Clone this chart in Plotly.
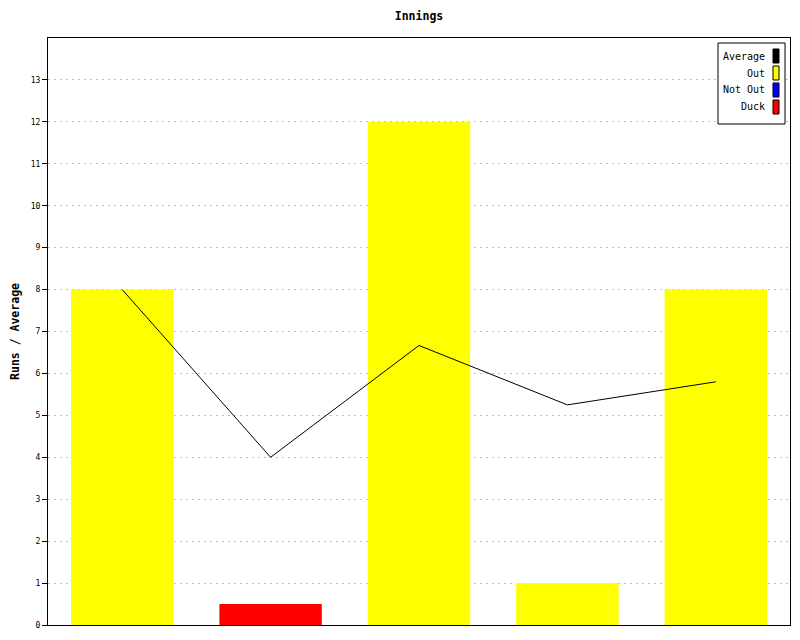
import plotly.graph_objects as go

# ---- data ----
innings = [1, 2, 3, 4, 5]
runs_bar = [8, 0.5, 12, 1, 8]           # duck drawn as a small stub
status = ["Out", "Duck", "Out", "Out", "Out"]
average = [8, 4, 6.6667, 5.25, 5.8]
y_ticks = list(range(0, 14))

legend_items = ["Average", "Out", "Not Out", "Duck"]
legend_colors = {"Average": "#000000", "Out": "#ffff00", "Not Out": "#0000ff", "Duck": "#ff0000"}

FONT = "DejaVu Sans Mono"

fig = go.Figure()
fig.add_trace(go.Bar(
    x=innings, y=runs_bar,
    marker=dict(color=[legend_colors[s] for s in status], line=dict(width=0)),
    width=0.69, showlegend=False, hoverinfo="skip",
))
fig.add_trace(go.Scatter(
    x=innings, y=average, mode="lines",
    line=dict(color="black", width=1), showlegend=False, hoverinfo="skip",
))

# page offset from default body margin
OFF = 8
W, H = 800 - OFF, 640 - OFF
# plot area in page pixels
L, R, T, B = 48, 790, 38, 625
def px(xp):
    return (xp - L) / (R - L)
def py(yp):
    return (B - yp) / (B - T)

shapes = []
annotations = []
# legend box
shapes.append(dict(type="rect", xref="paper", yref="paper",
                   x0=px(718), x1=px(785), y0=py(124), y1=py(43),
                   line=dict(color="black", width=1), fillcolor="white", layer="above"))
for i, name in enumerate(legend_items):
    cy = 56 + 17 * i
    shapes.append(dict(type="rect", xref="paper", yref="paper",
                       x0=px(773), x1=px(779), y0=py(cy + 7), y1=py(cy - 7),
                       line=dict(color="black", width=1),
                       fillcolor=legend_colors[name], layer="above"))
    annotations.append(dict(xref="paper", yref="paper", x=px(767), y=py(cy),
                            xanchor="right", yanchor="middle", showarrow=False,
                            text=name, font=dict(family=FONT, size=10, color="black")))

fig.update_layout(
    width=W, height=H,
    margin=dict(l=L - OFF, r=W - (R - OFF), t=T - OFF, b=H - (B - OFF), pad=0, autoexpand=False),
    paper_bgcolor="white", plot_bgcolor="white",
    title=dict(text="<b>Innings</b>", x=((L + R) / 2 - OFF) / W, xanchor="center",
               y=1 - (16 - OFF) / H, yanchor="middle", automargin=False,
               font=dict(family=FONT, size=11.5, color="black")),
    font=dict(family=FONT, color="black"),
    bargap=0.31,
    shapes=shapes, annotations=annotations,
    showlegend=False,
)
fig.update_xaxes(range=[0.5, 5.5], showticklabels=False, ticks="",
                 showgrid=False, zeroline=False, automargin=False,
                 showline=True, linecolor="black", linewidth=1, mirror=True)
fig.update_yaxes(range=[0, 14], tickvals=y_ticks, ticktext=[str(v) for v in y_ticks],
                 ticks="outside", ticklen=5, tickcolor="black", tickwidth=1,
                 tickfont=dict(family=FONT, size=8, color="black"),
                 showgrid=True, gridcolor="#c0c0c0", griddash="2px,4px", gridwidth=1,
                 zeroline=False, layer="above traces", automargin=False,
                 showline=True, linecolor="black", linewidth=1, mirror=True,
                 title=dict(text="<b>Runs / Average</b>", standoff=12,
                            font=dict(family=FONT, size=11.5, color="black")))

fig.write_html("out.html")
